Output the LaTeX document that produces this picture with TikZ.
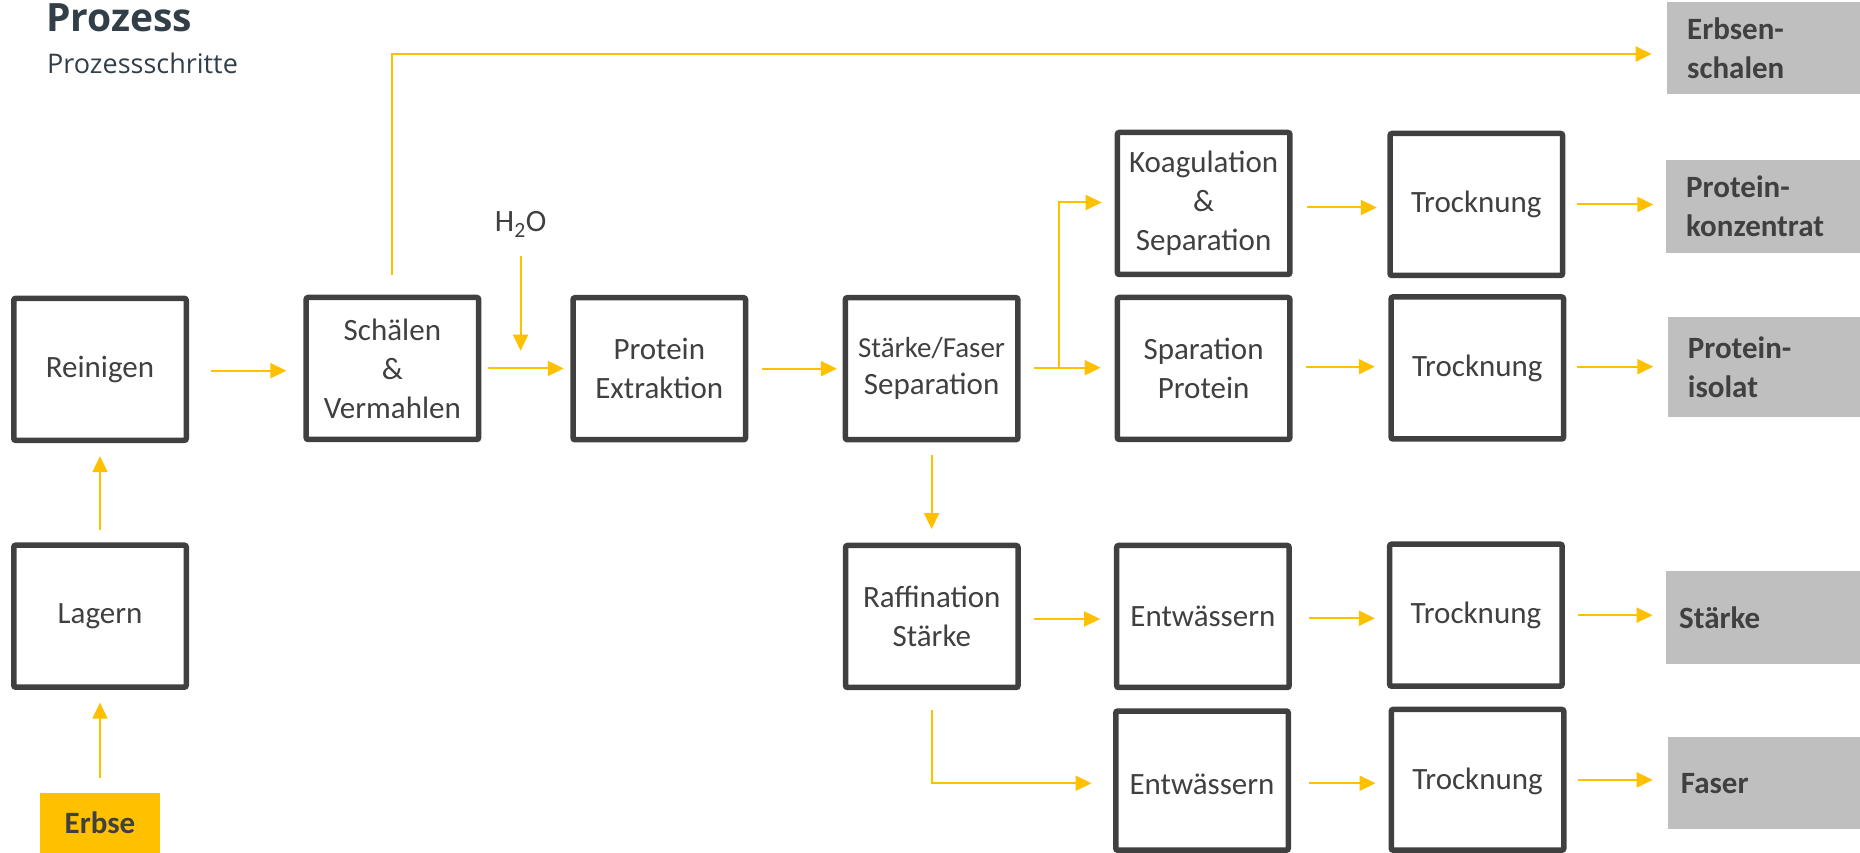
\documentclass[tikz,border=0pt]{standalone}
\usepackage{fontspec}
\setmainfont{Carlito}
\newfontfamily\headfont{Open Sans}
\usetikzlibrary{arrows.meta,calc}

\definecolor{amber}{HTML}{FFC000}
\definecolor{ink}{HTML}{404040}
\definecolor{slate}{HTML}{333F48}
\definecolor{panel}{HTML}{BFBFBF}

\begin{document}
\begin{tikzpicture}[x=1pt,y=1pt,
  stepbox/.style={draw=ink, line width=5.5pt, rounded corners=2pt,
    minimum width=172.5pt, minimum height=142pt, inner sep=0pt,
    align=center, text=ink, font=\fontsize{31}{39}\selectfont},
  product/.style={fill=panel, inner ysep=0pt, inner xsep=20pt,
    text width=156pt, anchor=west, align=left, text=ink,
    font=\bfseries\fontsize{31}{39}\selectfont},
  shortproduct/.style={product, inner xsep=13pt, text width=170pt},
  flow/.style={draw=amber, line width=2pt, -{Triangle[length=16pt,width=15pt]}},
]
\useasboundingbox (0,0) rectangle (1860,853);

% heading
\node[anchor=base west, inner sep=0pt, text=slate,
  font=\headfont\bfseries\fontsize{39}{39}\selectfont] (title) at (46,821.3) {Prozess};
\node[anchor=base west, inner sep=0pt, text=slate,
  font=\headfont\fontsize{27}{27}\selectfont] (subtitle) at (47,779) {Prozessschritte};

% raw material and pre-treatment
\node[fill=amber, minimum width=119.7pt, minimum height=60pt, inner sep=0pt,
  text=ink, font=\bfseries\fontsize{31}{39}\selectfont] (erbse) at (100,30) {Erbse};
\node[stepbox] (lag) at (100,236.8) {Lagern};
\node[stepbox] (rein) at (100,483.6) {Reinigen};
\node[stepbox] (schael) at (392.4,484.5) {Schälen\\\&\\Vermahlen};
\node[inner sep=0pt, anchor=base, text=ink, font=\fontsize{31}{39}\selectfont]
  (water) at (520.6,621.3) {H\textsubscript{2}O};
\node[stepbox] (prot) at (659.3,484.3) {Protein\\Extraktion};
\node[stepbox] (sf) at (931.6,484.3) {{\fontsize{29}{37}\selectfont Stärke/Faser}\\[-2pt]Separation};

% protein line
\node[stepbox] (koag) at (1203.6,649.5) {Koagulation\\\&\\Separation};
\node[stepbox] (tr1) at (1476.3,648.5) {Trocknung};
\node[stepbox] (spar) at (1203.6,484.5) {Sparation\\Protein};
\node[stepbox] (tr2) at (1477.3,485) {Trocknung};

% starch and fibre line
\node[stepbox] (raff) at (931.8,236.5) {Raffination\\Stärke};
\node[stepbox] (ent1) at (1202.9,236.5) {Entwässern};
\node[stepbox] (tr3) at (1475.9,237.8) {Trocknung};
\node[stepbox, minimum height=139.2pt] (ent2) at (1202,72.35)
  {\raisebox{-4pt}[\height][\depth]{Entwässern}};
\node[stepbox, minimum height=140.8pt] (tr4) at (1477.5,73.15)
  {\raisebox{-2pt}[\height][\depth]{Trocknung}};

% products
\node[product, minimum height=92pt] (schal) at (1667,804.7) {Erbsen-\\schalen};
\node[product, minimum height=92.7pt] (konz) at (1666,646.7) {Protein-\\konzentrat};
\node[product, minimum height=99.7pt] (iso) at (1667.7,486.2) {Protein-\\isolat};
\node[shortproduct, minimum height=92.7pt] (staerke) at (1666,235.7) {Stärke};
\node[shortproduct, minimum height=92pt] (faser) at (1667.7,69.7) {Faser};

% flows
\draw[flow] ([yshift=15pt]erbse.north) -- ([yshift=-12.7pt]lag.south);
\draw[flow] ([yshift=12pt]lag.north) -- ([yshift=-13pt]rein.south);
\draw[flow] ([xshift=22pt,yshift=-1.3pt]rein.east) -- ([xshift=-17pt,yshift=-1.3pt]rein.east -| schael.west);
\draw[flow] ([yshift=19.3pt]schael.north) |- ([xshift=-15.3pt,yshift=-5.7pt]schal.west);
\draw[flow] ([xshift=7pt]schael.east) -- ([xshift=-6.5pt]schael.east -| prot.west);
\draw[flow] ([yshift=-24pt]water.base) -- ([yshift=-119pt]water.base);
\draw[flow] ([xshift=13.4pt]prot.east) -- ([xshift=-5.7pt]prot.east -| sf.west);

\coordinate (split) at ([xshift=38.6pt,yshift=1pt]sf.east);
\draw[flow] ([xshift=13pt,yshift=1pt]sf.east) -- (split) |- ([xshift=-12.9pt,yshift=1pt]koag.west);
\draw[flow] (split) -- ([xshift=-13.9pt]split -| spar.west);
\draw[flow] ([xshift=14.5pt,yshift=-4pt]koag.east) -- ([xshift=-10.5pt,yshift=-4pt]koag.east -| tr1.west);
\draw[flow] ([xshift=12pt]tr1.east) -- ([xshift=-12.7pt]tr1.east -| konz.west);
\draw[flow] ([xshift=13pt,yshift=1.8pt]spar.east) -- ([xshift=-13.5pt,yshift=1.8pt]spar.east -| tr2.west);
\draw[flow] ([xshift=10.7pt,yshift=1.3pt]tr2.east) -- ([xshift=-14.4pt,yshift=1.3pt]tr2.east -| iso.west);

\draw[flow] ([yshift=-12.7pt]sf.south) -- ([yshift=13.7pt]sf.south |- raff.north);
\draw[flow] ([xshift=13.2pt,yshift=-2.5pt]raff.east) -- ([xshift=-13.8pt,yshift=-2.5pt]raff.east -| ent1.west);
\draw[flow] ([xshift=17pt,yshift=-1.8pt]ent1.east) -- ([xshift=-12pt,yshift=-1.8pt]ent1.east -| tr3.west);
\draw[flow] ([xshift=13.2pt]tr3.east) -- ([xshift=-13.4pt]tr3.east -| staerke.west);
\draw[flow] ([yshift=-20pt]raff.south) |- ([xshift=-21.5pt,yshift=-2.6pt]ent2.west);
\draw[flow] ([xshift=18pt,yshift=-2.6pt]ent2.east) -- ([xshift=-13pt,yshift=-2.6pt]ent2.east -| tr4.west);
\draw[flow] ([xshift=11pt]tr4.east) -- ([xshift=-15pt]tr4.east -| faser.west);
\end{tikzpicture}
\end{document}
